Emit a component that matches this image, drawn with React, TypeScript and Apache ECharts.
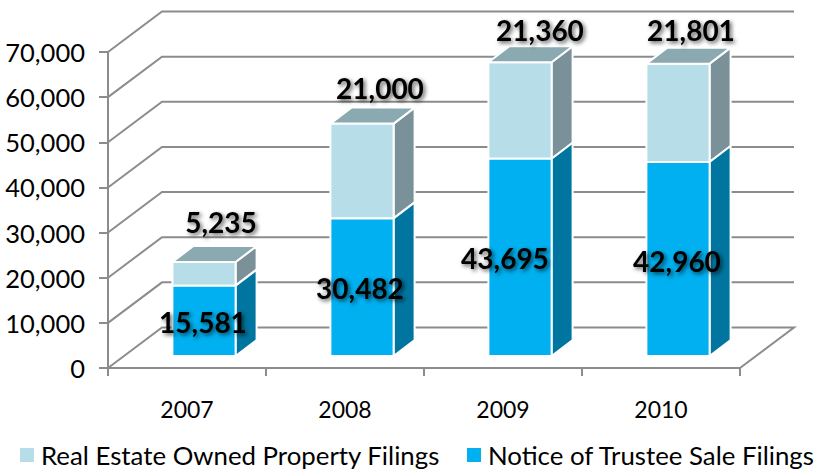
import React, { useEffect, useRef } from "react";
import * as echarts from "echarts";

const years = ["2007", "2008", "2009", "2010"];
const trusteeSaleFilings = [15581, 30482, 43695, 42960];
const reoFilings = [5235, 21000, 21360, 21801];
const yTicks = [0, 10000, 20000, 30000, 40000, 50000, 60000, 70000];
const trusteeName = "Notice of Trustee Sale Filings";
const reoName = "Real Estate Owned Property Filings";

// label nudges, in px, relative to the front-face anchor of each bar segment
const trusteeNudge = [[-1, 1], [-2, 1], [-15, 1], [-1, 2]];
const reoNudge = [[17, -40], [18, -36], [20, -32], [13, -34]];

const WALL_DX = 54;
const WALL_DY = -40.5;
const FRONT_DX = 17;
const FRONT_DY = -12;
const DEPTH_DX = 21;
const DEPTH_DY = -16;
const FONT = "Lato, Carlito, sans-serif";

const GRID = "#8c8c8c";

function gridLines(p: any, api: any) {
  const v = api.value(1);
  const r = p.coordSys;
  const y = api.coord([0, v])[1];
  const pts: number[][] = [
    [r.x, y],
    [r.x + WALL_DX, y + WALL_DY],
    [r.x + r.width + WALL_DX, y + WALL_DY],
  ];
  if (v === 0) pts.push([r.x + r.width, y]);
  return {
    type: "polyline",
    shape: { points: pts },
    style: { stroke: GRID, lineWidth: 2, fill: "none" },
  };
}

function barRenderer(front: string, side: string, top: string | null, nudge: number[][], isTop: boolean) {
  return (p: any, api: any) => {
    const i = api.value(0);
    const base = api.value(1);
    const end = api.value(2);
    const w = api.size([1, 0])[0] * 0.4;
    const c = api.coord([i, base]);
    const d = api.coord([i, end]);
    const x0 = c[0] - w / 2 + FRONT_DX;
    const x1 = x0 + w;
    const yb = c[1] + FRONT_DY;
    const yt = d[1] + FRONT_DY;
    const border = { stroke: "#ffffff", lineWidth: 2, lineJoin: "round" };
    const children: any[] = [
      {
        type: "polygon",
        shape: { points: [[x1, yb], [x1 + DEPTH_DX, yb + DEPTH_DY], [x1 + DEPTH_DX, yt + DEPTH_DY], [x1, yt]] },
        style: { fill: side, ...border },
      },
      {
        type: "rect",
        shape: { x: x0, y: yt, width: w, height: yb - yt },
        style: { fill: front, ...border },
      },
    ];
    if (top) {
      children.push({
        type: "polygon",
        shape: { points: [[x0, yt], [x0 + DEPTH_DX, yt + DEPTH_DY], [x1 + DEPTH_DX, yt + DEPTH_DY], [x1, yt]] },
        style: { fill: top, ...border },
      });
    }
    const n = nudge[i];
    const value = end - base;
    children.push({
      type: "text",
      z2: 100,
      style: {
        x: (x0 + x1) / 2 + n[0],
        y: (isTop ? yt : (yb + yt) / 2) + n[1],
        text: value.toLocaleString("en-US"),
        font: `bold 28px ${FONT}`,
        fill: "#000000",
        align: "center",
        verticalAlign: "middle",
        textShadowColor: "rgba(0,0,0,0.65)",
        textShadowBlur: 4,
        textShadowOffsetX: 2,
        textShadowOffsetY: 2,
      },
    });
    return { type: "group", children };
  };
}

const legendBase = {
  top: 442,
  padding: 0,
  itemWidth: 14,
  itemHeight: 14,
  icon: "rect",
  textStyle: { fontFamily: FONT, fontSize: 25.8, color: "#000", padding: [0, 0, 0, 2] },
};

export default function App() {
  const ref = useRef<HTMLDivElement>(null);
  useEffect(() => {
    const chart = echarts.init(ref.current!, undefined, { renderer: "svg" });
    chart.setOption({
      animation: false,
      backgroundColor: "#ffffff",
      grid: { left: 108, right: 75, top: 52, bottom: 104 },
      legend: [
        { ...legendBase, data: [reoName], left: 20 },
        { ...legendBase, data: [trusteeName], left: 467 },
      ],
      xAxis: {
        type: "category",
        data: years,
        axisLine: { lineStyle: { color: GRID, width: 2 } },
        axisTick: { show: true, length: 8, lineStyle: { color: GRID, width: 2 } },
        axisLabel: { fontFamily: FONT, fontSize: 23, color: "#000", margin: 29 },
        splitLine: { show: false },
      },
      yAxis: {
        type: "value",
        min: 0,
        max: 70000,
        interval: 10000,
        axisLine: { show: true, lineStyle: { color: GRID, width: 2 } },
        axisTick: { show: true, length: 9, lineStyle: { color: GRID, width: 2 } },
        axisLabel: {
          fontFamily: FONT,
          fontSize: 25.5,
          color: "#000",
          margin: 23,
          formatter: (v: number) => v.toLocaleString("en-US"),
        },
        splitLine: { show: false },
      },
      series: [
        {
          type: "custom",
          name: "grid",
          z: 1,
          silent: true,
          renderItem: gridLines,
          data: yTicks.map((v) => [0, v]),
          encode: { x: 0, y: 1 },
        },
        {
          type: "custom",
          name: trusteeName,
          z: 3,
          itemStyle: { color: "#00B0F0" },
          renderItem: barRenderer("#00B0F0", "#0075A0", null, trusteeNudge, false),
          data: years.map((_, i) => [i, 0, trusteeSaleFilings[i]]),
          encode: { x: 0, y: 2 },
        },
        {
          type: "custom",
          name: reoName,
          z: 2,
          itemStyle: { color: "#B7DEE8" },
          renderItem: barRenderer("#B7DEE8", "#7A9199", "#8AA9B1", reoNudge, true),
          data: years.map((_, i) => [i, trusteeSaleFilings[i], trusteeSaleFilings[i] + reoFilings[i]]),
          encode: { x: 0, y: 2 },
        },
      ],
    });
    return () => chart.dispose();
  }, []);
  return (
    <div
      ref={ref}
      style={{ position: "fixed", left: 0, top: 0, width: 815, height: 472 }}
    />
  );
}
